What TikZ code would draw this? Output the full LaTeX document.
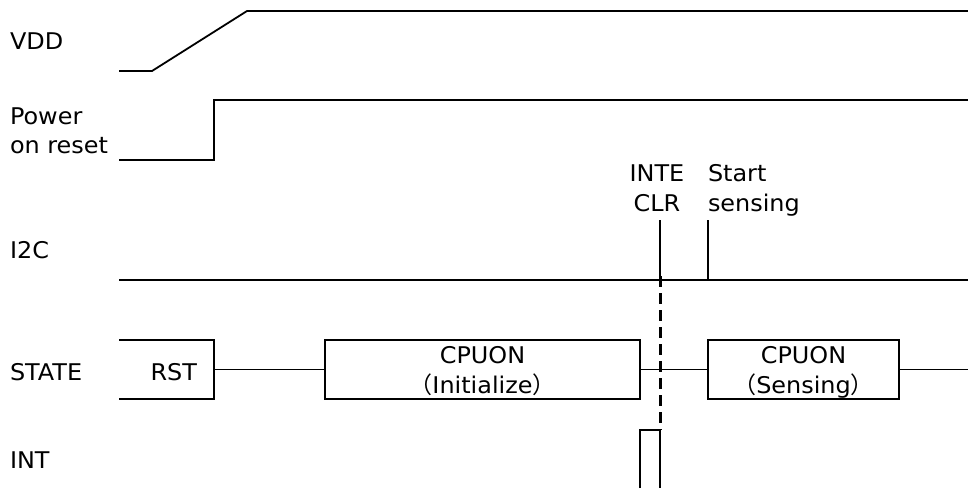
\documentclass[tikz,border=0pt]{standalone}
\usepackage{fontspec}
\setmainfont[FakeStretch=1.04]{DejaVu Sans}
\newfontfamily\cjk{Noto Sans CJK JP}
\begin{document}
\begin{tikzpicture}[x=1pt,y=-1pt,
  every node/.style={font=\fontsize{23}{30}\selectfont, inner sep=0pt, outer sep=0pt},
  lbl/.style={anchor=base west},
  sig/.style={line width=1.8pt, line join=miter},
  box/.style={draw, line width=1.8pt, minimum height=59pt, align=center, text depth=0pt},
  dsh/.style={line width=3pt, dash pattern=on 11pt off 6pt}]
\useasboundingbox (0,0) rectangle (968,488);
% labels
\node[lbl] (lvdd) at (10,49) {VDD};
\node[lbl] (lpor1) at (10,124) {Power};
\node[lbl] (lpor2) at (10,153) {on reset};
\node[lbl] (li2c) at (10,258) {I2C};
\node[lbl] (lstate) at (10,380) {STATE};
\node[lbl] (lint) at (10,468) {INT};
\node[anchor=base] (linte) at (657,181) {INTE};
\node[anchor=base] (lclr) at (657,211) {CLR};
\node[lbl] (lstart) at (708,181) {Start};
\node[lbl] (lsens) at (708,211) {sensing};
% VDD
\coordinate (v0) at (119,71);
\coordinate (v1) at (152,71);
\coordinate (v2) at (247,11);
\coordinate (v3) at (968,11);
\draw[sig] (v0) -- (v1) -- (v2) -- (v3);
% Power on reset
\coordinate (p0) at (119,160);
\coordinate (p1) at (214,160);
\coordinate (p2) at (214,100);
\coordinate (p3) at (968,100);
\draw[sig] (p0) -- (p1) -- (p2) -- (p3);
% I2C
\coordinate (i0) at (119,280);
\coordinate (i1) at (968,280);
\coordinate (ia) at (660,280);
\coordinate (iat) at (660,220);
\coordinate (ib) at (708,280);
\coordinate (ibt) at (708,220);
\draw[sig] (i0) -- (i1);
\draw[sig] (ia) -- (iat);
\draw[sig] (ib) -- (ibt);
% STATE
\coordinate (r0) at (119,340);
\coordinate (r1) at (214,340);
\coordinate (r2) at (214,399);
\coordinate (r3) at (119,399);
\coordinate (rstR) at (214,369.5);
\draw[sig] (r0) -- (r1) -- (r2) -- (r3);
\node[anchor=base east] (rst) at (197,380) {RST};
\node[box, minimum width=315pt] (cpu1) at (482.5,369.5) {CPUON\\{\cjk （}Initialize{\cjk ）}};
\node[box, minimum width=191pt] (cpu2) at (803.5,369.5) {CPUON\\{\cjk （}Sensing{\cjk ）}};
\coordinate (send) at (968,369.5);
\draw[sig] (rstR) -- (cpu1.west);
\draw[sig] (cpu1.east) -- (cpu2.west);
\draw[sig] (cpu2.east) -- (send);
% INT
\coordinate (n0) at (640,488);
\coordinate (n1) at (640,430);
\coordinate (n2) at (660,430);
\coordinate (n3) at (660,488);
\draw[sig] (n0) -- (n1) -- (n2) -- (n3);
% dashed marker
\draw[dsh] ([yshift=4pt]ia) -- (n2);
\end{tikzpicture}
\end{document}
